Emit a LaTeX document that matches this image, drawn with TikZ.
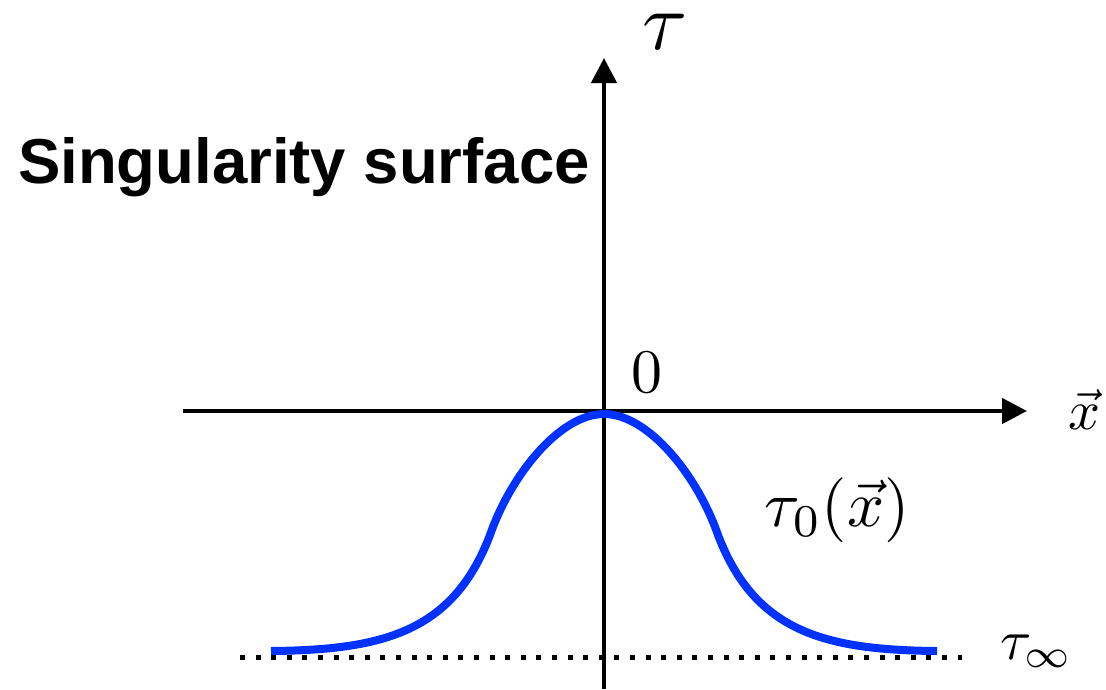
\documentclass[tikz,border=0pt]{standalone}
\usepackage{fontspec}
\newfontfamily\headfont{Liberation Sans}
\usetikzlibrary{arrows.meta}
\definecolor{curveblue}{RGB}{0,50,255}
\begin{document}
\begin{tikzpicture}[x=1pt,y=-1pt,
  axis/.style={line width=4.5pt,-{Triangle[length=25pt,width=25pt]}},
  lbl/.style={inner sep=0pt, outer sep=0pt},
  curve/.style={curveblue, line width=8pt},
  asym/.style={line width=5pt, dash pattern=on 5pt off 10.6pt}]
\useasboundingbox (0,0) rectangle (1106,689);
% axes
\coordinate (vb) at (604,689);
\coordinate (vt) at (604,58);
\coordinate (hl) at (183,411);
\coordinate (hr) at (1027,411);
\draw[axis] (vb) -- (vt);
\draw[axis] (hl) -- (hr);
% asymptote
\coordinate (dl) at (240,657);
\coordinate (dr) at (962,657);
\draw[asym] (dl) -- (dr);
% curve
\coordinate (cl) at (271,651);
\coordinate (cpeak) at (604,414);
\coordinate (cr) at (937,651);
\draw[curve] (cl) .. controls (383,650) and (453,632) .. (490,535)
  .. controls (510,477) and (559,414) .. (cpeak)
  .. controls (649,414) and (698,477) .. (718,535)
  .. controls (755,632) and (825,650) .. (cr);
% labels
\node[lbl, anchor=base] (tau) at (665,49) {\scalebox{8.2}{$\tau$}};
\node[lbl, anchor=base] (zero) at (646.5,392) {\scalebox{6.2}{$0$}};
\node[lbl, anchor=base] (xv) at (1084,429) {\scalebox{5.6}{$\vec{x}$}};
\node[lbl] (tauzero) at (837,510) {\scalebox{6.5}{$\tau_0(\vec{x})$}};
\node[lbl, anchor=base west] (tauinf) at (1000,659) {\scalebox{5.7}{$\tau_\infty$}};
\node[lbl, anchor=base west] (title) at (18,183) {\headfont\bfseries\fontsize{63.5}{63.5}\selectfont Singularity surface};
\end{tikzpicture}
\end{document}
